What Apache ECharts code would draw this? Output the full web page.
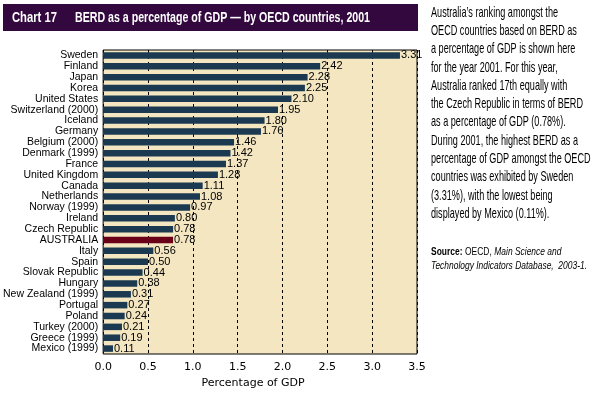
<!DOCTYPE html>
<html><head><meta charset="utf-8">
<script src="https://cdn.jsdelivr.net/npm/echarts@6/dist/echarts.min.js"></script>
<style>html,body{margin:0;padding:0;background:#fff}#c{width:613px;height:395px}</style>
</head><body><div id="c"></div>
<script>
const categories = ["Sweden","Finland","Japan","Korea","United States","Switzerland (2000)","Iceland","Germany","Belgium (2000)","Denmark (1999)","France","United Kingdom","Canada","Netherlands","Norway (1999)","Ireland","Czech Republic","AUSTRALIA","Italy","Spain","Slovak Republic","Hungary","New Zealand (1999)","Portugal","Poland","Turkey (2000)","Greece (1999)","Mexico (1999)"];
const values = [3.31,2.42,2.28,2.25,2.10,1.95,1.80,1.76,1.46,1.42,1.37,1.28,1.11,1.08,0.97,0.80,0.78,0.78,0.56,0.50,0.44,0.38,0.31,0.27,0.24,0.21,0.19,0.11];
const highlight = "AUSTRALIA";
const titleLabel = "Chart 17";
const titleText = "BERD as a percentage of GDP \u2014 by OECD countries, 2001";
const noteLines = ["Australia\u2019s ranking amongst the","OECD countries based on BERD as","a percentage of GDP is shown here","for the year 2001. For this year,","Australia ranked 17th equally with","the Czech Republic in terms of BERD","as a percentage of GDP (0.78%).","During 2001, the highest BERD as a","percentage of GDP amongst the OECD","countries was exhibited by Sweden","(3.31%), with the lowest being","displayed by Mexico (0.11%)."];

const FONT = "'Liberation Sans',Arial,sans-serif";
const mctx = document.createElement('canvas').getContext('2d');
function tw(text, font){ mctx.font = font; return mctx.measureText(text).width; }

const titleFont = "bold 15px " + FONT;
const noteFont = "15px " + FONT;
const srcB = "bold 11px " + FONT, srcN = "11px " + FONT, srcI = "italic 11px " + FONT;

const sLabel = 45 / tw(titleLabel, titleFont);
const sTitle = 295 / tw(titleText, titleFont);
const sNote = 152 / tw(noteLines[5], noteFont);
const src2 = "Technology Indicators Database,  2003-1.";
const sSrc = 156 / tw(src2, srcI);

const chart = echarts.init(document.getElementById('c'), null, {renderer:'canvas'});
const graphics = [
  {type:'rect', shape:{x:3,y:4,width:415,height:27}, style:{fill:'#33083f'}},
  {type:'text', x:12, y:18, scaleX:sLabel, style:{text:titleLabel, fill:'#fff', font:titleFont, verticalAlign:'middle'}},
  {type:'text', x:75, y:18, scaleX:sTitle, style:{text:titleText, fill:'#fff', font:titleFont, verticalAlign:'middle'}}
];
noteLines.forEach((t,i)=>{
  graphics.push({type:'text', x:431, y:12.5+i*18.3, scaleX:sNote, style:{text:t, fill:'#000', font:noteFont, verticalAlign:'middle'}});
});
graphics.push({type:'text', x:431, y:252, scaleX:sSrc, style:{rich:{b:{font:srcB, fill:'#000'}, n:{font:srcN, fill:'#000'}, i:{font:srcI, fill:'#000'}}, text:'{b|Source:} {n|OECD,} {i|Main Science and}', verticalAlign:'middle'}});
graphics.push({type:'text', x:431, y:266, scaleX:sSrc, style:{text:src2, font:srcI, fill:'#000', verticalAlign:'middle'}});

chart.setOption({
  animation:false,
  grid:{left:102, top:50, width:315, height:304, containLabel:false, show:true, backgroundColor:'#f3e6c0', borderColor:'#000', borderWidth:1},
  xAxis:{type:'value', min:0, max:3.5, interval:0.5,
    name:'Percentage of GDP', nameLocation:'middle', nameGap:22,
    nameTextStyle:{fontSize:11, color:'#000', fontFamily:'DejaVu Sans', padding:[0,14,0,0]},
    axisLine:{show:false}, axisTick:{show:false},
    axisLabel:{color:'#000', fontSize:11, fontFamily:'DejaVu Sans', margin:8, formatter:v=>v.toFixed(1)},
    splitLine:{show:true, lineStyle:{color:'#000', type:[3,3], width:1}}},
  yAxis:{type:'category', data:categories, inverse:true,
    axisLine:{show:false}, axisTick:{show:false},
    axisLabel:{color:'#000', fontSize:10.5, fontFamily:'Liberation Sans', margin:5, interval:0}},
  series:[{type:'bar', barWidth:'60%',
    data:values.map((v,i)=>({value:v, itemStyle:{color: categories[i]===highlight ? '#6a0018' : '#1b3a52'}})),
    label:{show:true, position:'right', distance:1, color:'#000', fontSize:11, fontFamily:'Liberation Sans', formatter:p=>p.value.toFixed(2)}}],
  graphic:graphics
});
</script></body></html>
